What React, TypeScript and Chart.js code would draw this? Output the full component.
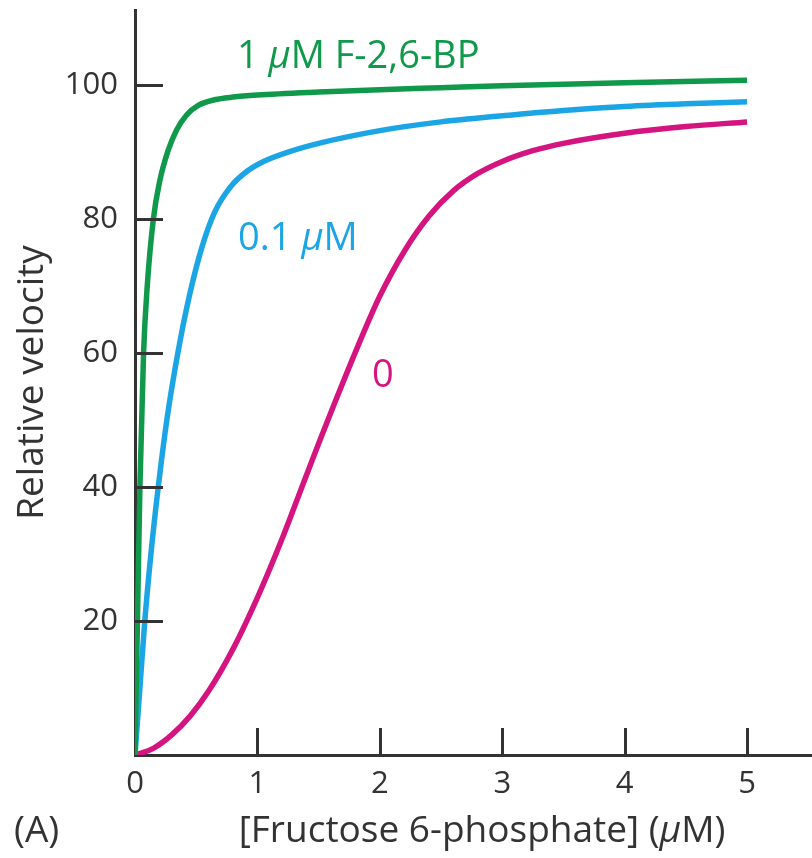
import React, { useEffect, useRef } from 'react';
import { Chart, registerables } from 'chart.js';

Chart.register(...registerables);

// ---------- data ----------
const X_TICKS = [0, 1, 2, 3, 4, 5];
const Y_TICKS = [20, 40, 60, 80, 100];
const X_MIN = 0;
const X_MAX = 5.53;
const Y_MIN = 0;
const Y_MAX = 111.2;

// 1 µM F-2,6-BP
const F1_X = [0, 0.02, 0.04, 0.07, 0.1, 0.15, 0.2, 0.27, 0.34, 0.42, 0.52, 0.65, 0.8, 1, 1.5, 2, 2.5, 3, 4, 5];
const F1_Y = [0, 20, 40, 60, 70, 80, 85.5, 90.2, 93.3, 95.5, 97, 97.8, 98.2, 98.5, 98.95, 99.3, 99.6, 99.9, 100.35, 100.7];

// 0.1 µM F-2,6-BP
const F01_X = [0, 0.04, 0.08, 0.13, 0.19, 0.26, 0.35, 0.45, 0.55, 0.65, 0.78, 0.92, 1.05, 1.25, 1.5, 2, 2.5, 3, 3.5, 4, 4.5, 5];
const F01_Y = [0, 10, 20, 30, 40, 50, 60, 69, 76, 81, 84.8, 87.2, 88.6, 90, 91.3, 93.2, 94.5, 95.4, 96.2, 96.8, 97.2, 97.5];

// 0 F-2,6-BP
const F0_X = [0, 0.15, 0.3, 0.45, 0.6, 0.8, 1.0, 1.2, 1.37, 1.5, 1.63, 1.82, 2.0, 2.2, 2.4, 2.6, 2.8, 3, 3.25, 3.5, 4, 4.5, 5];
const F0_Y = [0, 1.0, 3.0, 5.8, 9.5, 15.8, 23.5, 32.2, 40.3, 46.5, 52.5, 61, 68.5, 75.2, 80.4, 84.2, 86.8, 88.6, 90.2, 91.3, 92.8, 93.8, 94.5];

const Y_TITLE = 'Relative velocity';
const X_TITLE_PARTS = [
  { t: '[Fructose 6-phosphate] (' },
  { t: 'μ', italic: true },
  { t: 'M)' },
];
const PANEL_LABEL = '(A)';

// ---------- styles ----------
const FONT = '"Open Sans", "Noto Sans", sans-serif';
const TEXT_COLOR = '#333333';
const AXIS_COLOR = '#333333';
const GREEN = '#11994b';
const BLUE = '#1ca5e4';
const MAGENTA = '#d4147f';
const TICK_SIZE = 31;
const TITLE_SIZE = 37;
const NOTE_SIZE = 38;

const CURVE_LABELS = [
  { parts: [{ t: '1 ' }, { t: 'μ', italic: true }, { t: 'M F-2,6-BP' }], x: 0.833, y: 102.5, color: GREEN },
  { parts: [{ t: '0.1 ' }, { t: 'μ', italic: true }, { t: 'M' }], x: 0.842, y: 75.4, color: BLUE },
  { parts: [{ t: '0' }], x: 1.936, y: 54.9, color: MAGENTA },
];

function toPoints(xs: number[], ys: number[]) {
  return xs.map((x, i) => ({ x, y: ys[i] }));
}

function richWidth(ctx: CanvasRenderingContext2D, parts: any[], size: number) {
  let w = 0;
  for (const p of parts) {
    ctx.font = `${p.italic ? 'italic ' : ''}${size}px ${FONT}`;
    w += ctx.measureText(p.t).width;
  }
  return w;
}

function drawRich(ctx: CanvasRenderingContext2D, parts: any[], x: number, y: number, color: string, size: number) {
  let cx = x;
  ctx.textAlign = 'left';
  ctx.textBaseline = 'alphabetic';
  ctx.fillStyle = color;
  for (const p of parts) {
    ctx.font = `${p.italic ? 'italic ' : ''}${size}px ${FONT}`;
    ctx.fillText(p.t, cx, y);
    cx += ctx.measureText(p.t).width;
  }
}

const inwardTicks = {
  id: 'inwardTicks',
  afterDatasetsDraw(chart: any) {
    const { ctx, chartArea, scales } = chart;
    const xs = scales.x;
    const ys = scales.y;
    ctx.save();
    ctx.strokeStyle = AXIS_COLOR;
    ctx.lineWidth = 3;
    ctx.beginPath();
    for (const v of X_TICKS) {
      if (v === X_MIN) continue;
      const px = Math.round(xs.getPixelForValue(v)) + 0.5;
      ctx.moveTo(px, chartArea.bottom);
      ctx.lineTo(px, chartArea.bottom - 27);
    }
    for (const v of Y_TICKS) {
      const py = Math.round(ys.getPixelForValue(v)) + 0.5;
      ctx.moveTo(chartArea.left, py);
      ctx.lineTo(chartArea.left + 28, py);
    }
    ctx.stroke();
    ctx.restore();
  },
};

const textLabels = {
  id: 'textLabels',
  afterDraw(chart: any) {
    const { ctx, scales } = chart;
    const xs = scales.x;
    const ys = scales.y;
    ctx.save();
    for (const l of CURVE_LABELS) {
      drawRich(ctx, l.parts, xs.getPixelForValue(l.x), ys.getPixelForValue(l.y), l.color, NOTE_SIZE);
    }
    // x-axis title
    const w = richWidth(ctx, X_TITLE_PARTS, TITLE_SIZE);
    drawRich(ctx, X_TITLE_PARTS, 482 - w / 2, 842, TEXT_COLOR, TITLE_SIZE);
    // panel label
    drawRich(ctx, [{ t: PANEL_LABEL }], 14, 842, TEXT_COLOR, TITLE_SIZE);
    ctx.restore();
  },
};

export default function App() {
  const ref = useRef<HTMLCanvasElement>(null);

  useEffect(() => {
    if (!ref.current) return;
    const lineDs = (data: any[], color: string) => ({
      data,
      borderColor: color,
      backgroundColor: color,
      borderWidth: 5.5,
      pointRadius: 0,
      pointHoverRadius: 0,
      fill: false,
      cubicInterpolationMode: 'monotone' as const,
      borderCapStyle: 'butt' as const,
    });

    const chart = new Chart(ref.current, {
      type: 'line',
      data: {
        datasets: [
          lineDs(toPoints(F1_X, F1_Y), GREEN),
          lineDs(toPoints(F01_X, F01_Y), BLUE),
          lineDs(toPoints(F0_X, F0_Y), MAGENTA),
        ],
      },
      options: {
        responsive: false,
        animation: false,
        events: [],
        layout: { padding: { left: 0, right: 0, top: 10, bottom: 0 } },
        plugins: {
          legend: { display: false },
          tooltip: { enabled: false },
        },
        scales: {
          x: {
            type: 'linear',
            min: X_MIN,
            max: X_MAX,
            afterBuildTicks: (s: any) => {
              s.ticks = X_TICKS.map((v) => ({ value: v }));
            },
            afterFit: (s: any) => {
              s.height = 858 - 755;
              s.paddingLeft = 0;
              s.paddingRight = 0;
            },
            grid: { display: false, drawTicks: false, tickLength: 0 },
            border: { display: true, color: AXIS_COLOR, width: 3 },
            ticks: {
              color: TEXT_COLOR,
              font: { family: FONT, size: TICK_SIZE },
              padding: 11,
              maxRotation: 0,
              autoSkip: false,
            },
          },
          y: {
            type: 'linear',
            min: Y_MIN,
            max: Y_MAX,
            afterBuildTicks: (s: any) => {
              s.ticks = Y_TICKS.map((v) => ({ value: v }));
            },
            afterFit: (s: any) => {
              s.width = 135;
              s.paddingTop = 0;
              s.paddingBottom = 0;
            },
            grid: { display: false, drawTicks: false, tickLength: 0 },
            border: { display: true, color: AXIS_COLOR, width: 3 },
            ticks: {
              color: TEXT_COLOR,
              font: { family: FONT, size: TICK_SIZE },
              padding: 17,
              autoSkip: false,
            },
            title: {
              display: true,
              text: Y_TITLE,
              color: TEXT_COLOR,
              font: { family: FONT, size: TITLE_SIZE },
              padding: { top: 10, bottom: 0 },
            },
          },
        },
      },
      plugins: [inwardTicks, textLabels],
    });
    return () => chart.destroy();
  }, []);

  return (
    <div style={{ position: 'absolute', left: 0, top: 0, width: 812, height: 858, background: '#fff' }}>
      <canvas ref={ref} width={812} height={858} style={{ display: 'block', width: 812, height: 858 }} />
    </div>
  );
}
